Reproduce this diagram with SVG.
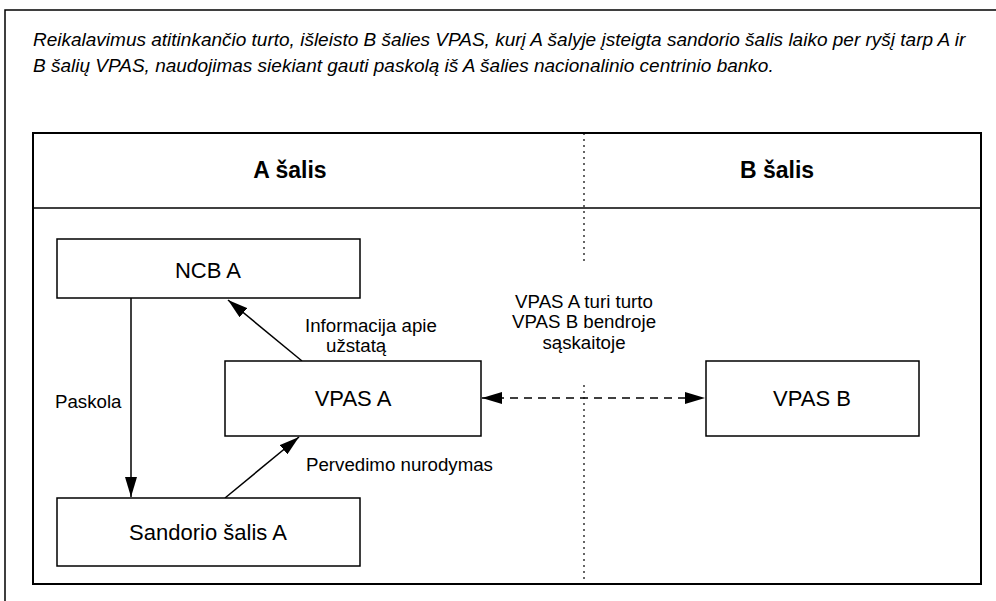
<svg xmlns="http://www.w3.org/2000/svg" width="996" height="601" viewBox="0 0 996 601">
<defs>
<style>
text{font-family:"Liberation Sans",Arial,sans-serif;fill:#000}
.box{fill:#fff;stroke:#000;stroke-width:1.5}
.node{font-size:22px;text-anchor:middle}
.lbl{font-size:18.7px}
.hdr{font-size:23px;font-weight:bold;text-anchor:middle}
.ttl{font-size:19px;font-style:italic}
.con{stroke:#000;stroke-width:1.5;fill:none}
</style>
<marker id="ah2" viewBox="0 0 20 12" refX="20" refY="6" markerWidth="20" markerHeight="12" markerUnits="userSpaceOnUse" orient="auto-start-reverse">
<path d="M0,0 L20,6 L0,12 z" fill="#000"/>
</marker>
</defs>
<rect width="996" height="601" fill="#fff"/>
<g id="frame">
<path d="M5,601 V10 H996" fill="none" stroke="#000" stroke-width="1.5"/>
<text class="ttl" x="33" y="46">Reikalavimus atitinkančio turto, išleisto B šalies VPAS, kurį A šalyje įsteigta sandorio šalis laiko per ryšį tarp A ir</text>
<text class="ttl" x="33" y="72">B šalių VPAS, naudojimas siekiant gauti paskolą iš A šalies nacionalinio centrinio banko.</text>
<rect x="33" y="133" width="948" height="451" fill="none" stroke="#000" stroke-width="2"/>
<line x1="33" y1="208" x2="981" y2="208" stroke="#000" stroke-width="1.5"/>
<line x1="584" y1="133" x2="584" y2="584" stroke="#000" stroke-width="1.2" stroke-dasharray="2,4"/>
<text class="hdr" x="290" y="178">A šalis</text>
<text class="hdr" x="777" y="178">B šalis</text>
</g>
<g id="connectors">
<line class="con" x1="131" y1="298" x2="131" y2="497" marker-end="url(#ah2)"/>
<line class="con" x1="302" y1="361" x2="228" y2="300" marker-end="url(#ah2)"/>
<line class="con" x1="225" y1="498" x2="299" y2="437" marker-end="url(#ah2)"/>
<line class="con" x1="482" y1="398" x2="705" y2="398" stroke-dasharray="8,6" marker-start="url(#ah2)" marker-end="url(#ah2)"/>
<text class="lbl" x="55" y="408">Paskola</text>
<text class="lbl" x="305" y="332">Informacija apie</text>
<text class="lbl" x="326" y="352">užstatą</text>
<text class="lbl" x="306" y="471">Pervedimo nurodymas</text>
<rect x="505" y="265" width="158" height="120" fill="#fff"/>
<text class="lbl" text-anchor="middle" x="584" y="308">VPAS A turi turto</text>
<text class="lbl" text-anchor="middle" x="584" y="328">VPAS B bendroje</text>
<text class="lbl" text-anchor="middle" x="584" y="349">sąskaitoje</text>
</g>
<g id="ncb-a">
<rect class="box" x="57" y="239" width="303" height="59"/>
<text class="node" x="208" y="278">NCB A</text>
</g>
<g id="vpas-a">
<rect class="box" x="225" y="361" width="256" height="75"/>
<text class="node" x="353" y="406">VPAS A</text>
</g>
<g id="vpas-b">
<rect class="box" x="706" y="361" width="213" height="75"/>
<text class="node" x="812" y="406">VPAS B</text>
</g>
<g id="sandorio-salis-a">
<rect class="box" x="57" y="498" width="303" height="68"/>
<text class="node" x="208" y="540">Sandorio šalis A</text>
</g>
</svg>
